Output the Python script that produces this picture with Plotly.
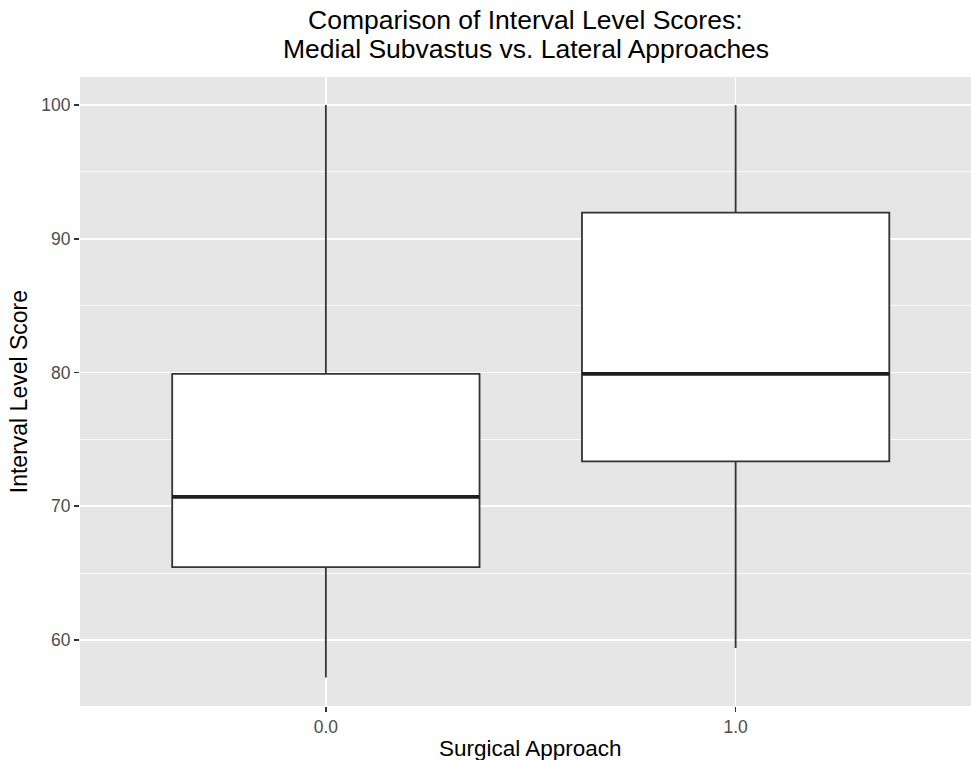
import plotly.graph_objects as go

# ---- data ----
categories = [0.0, 1.0]
tick_labels = ["0.0", "1.0"]
lower_whisker = [57.2, 59.4]
q1_values = [65.45, 73.35]
median_values = [70.7, 79.9]
q3_values = [79.9, 91.95]
upper_whisker = [100.0, 100.0]

BOX_WIDTH = 0.75
FONT = "Liberation Sans"

fig = go.Figure()

fig.add_trace(go.Box(
    x=categories,
    q1=q1_values,
    median=median_values,
    q3=q3_values,
    lowerfence=lower_whisker,
    upperfence=upper_whisker,
    width=BOX_WIDTH,
    whiskerwidth=0,
    fillcolor="white",
    line=dict(color="#333333", width=1.8),
    boxpoints=False,
    showlegend=False,
    hoverinfo="skip",
))

# thicker median lines, as ggplot draws them
for c, m in zip(categories, median_values):
    fig.add_trace(go.Scatter(
        x=[c - BOX_WIDTH / 2, c + BOX_WIDTH / 2],
        y=[m, m],
        mode="lines",
        line=dict(color="#1f1f1f", width=3.6),
        showlegend=False,
        hoverinfo="skip",
    ))

H_TOP, H_BOT = 77, 706
def py(p):
    return (H_BOT - p) / (H_BOT - H_TOP)

fig.update_layout(
    width=971, height=760,
    margin=dict(l=80, r=0, t=H_TOP, b=760 - H_BOT),
    paper_bgcolor="white",
    plot_bgcolor="#E6E6E6",
    showlegend=False,
    hovermode=False,
    font=dict(family=FONT, color="black"),
    xaxis=dict(
        range=[-0.6, 1.5744],
        tickvals=categories,
        ticktext=tick_labels,
        showgrid=True, gridcolor="white", gridwidth=1.6,
        zeroline=False,
        ticks="outside", ticklen=5, tickwidth=1.6, tickcolor="#333333",
        tickfont=dict(family=FONT, size=17.5, color="#4D4D4D"),
        showline=False,
    ),
    yaxis=dict(
        range=[55.07, 102.09],
        tickvals=[60, 70, 80, 90, 100],
        showgrid=True, gridcolor="white", gridwidth=1.6,
        zeroline=False,
        ticks="outside", ticklen=5, tickwidth=1.6, tickcolor="#333333",
        tickfont=dict(family=FONT, size=17.5, color="#4D4D4D"),
        minor=dict(tickvals=[55, 65, 75, 85, 95], showgrid=True,
                   gridcolor="white", gridwidth=0.8, ticks=""),
        showline=False,
    ),
    annotations=[
        dict(text="Comparison of Interval Level Scores:", xref="paper", yref="paper",
             x=0.5, y=py(20), xanchor="center", yanchor="middle", showarrow=False,
             font=dict(family=FONT, size=26.5, color="black")),
        dict(text="Medial Subvastus vs. Lateral Approaches", xref="paper", yref="paper",
             x=0.5, y=py(48.5), xanchor="center", yanchor="middle", showarrow=False,
             font=dict(family=FONT, size=26.5, color="black")),
        dict(text="Surgical Approach", xref="x", yref="paper",
             x=0.5, y=py(748), xanchor="center", yanchor="middle", showarrow=False,
             font=dict(family=FONT, size=22.5, color="black")),
        dict(text="Interval Level Score", xref="paper", yref="paper",
             x=(18.7 - 80) / 891, y=py(391.5), xanchor="center", yanchor="middle",
             textangle=-90, showarrow=False,
             font=dict(family=FONT, size=23, color="black")),
    ],
)

fig.write_html(
    "out.html",
    config={"displayModeBar": False, "staticPlot": True},
    post_script="document.body.style.margin='0px';document.body.style.overflow='hidden';",
)
